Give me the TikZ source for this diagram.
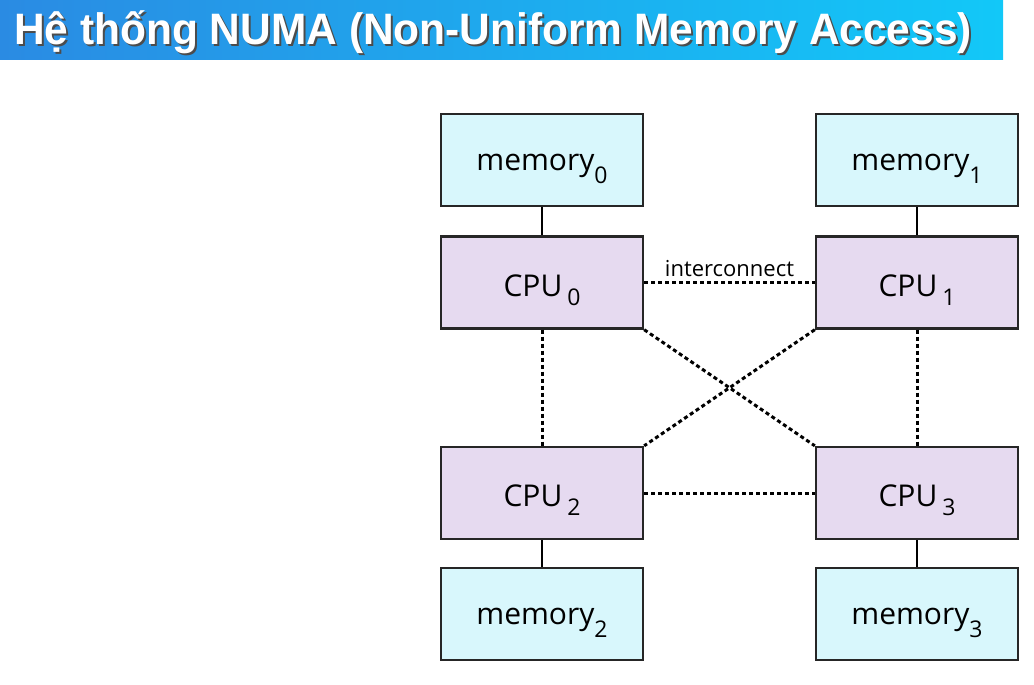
\documentclass[tikz,border=0pt]{standalone}
\usepackage{fontspec}
\setmainfont{Open Sans}
\newfontfamily\titlefont[FakeStretch=0.965]{Liberation Sans}
\usepackage{tikz}

\definecolor{memfill}{HTML}{D8F7FC}
\definecolor{cpufill}{HTML}{E6DAF0}
\definecolor{barleft}{HTML}{2A8BE3}
\definecolor{barright}{HTML}{12C8F8}

% name with a lowered index
\newcommand{\lowidx}[3]{#1\raisebox{-#3}{\fontsize{23}{23}\selectfont #2}}

\begin{document}
\begin{tikzpicture}[x=1pt, y=-1pt,
	membox/.style={shape=rectangle, draw=black!85, line width=2.4pt, fill=memfill, minimum width=202pt, minimum height=92pt, text height=25pt, text depth=5pt, font=\fontsize{30}{30}\selectfont},
	cpubox/.style={shape=rectangle, draw=black!85, line width=2.4pt, fill=cpufill, minimum width=202pt, minimum height=92pt, text height=30pt, text depth=3pt, font=\fontsize{30}{30}\selectfont},
	link/.style={-, line width=3pt, dash pattern=on 4pt off 3pt}]
	
	\useasboundingbox[fill=white] (0, 0) rectangle (1034, 685);
	
	% title bar
	\shade[left color=barleft, right color=barright] (0, 0) rectangle (1003, 60);
	\node[anchor=base west, text=black!70, font=\titlefont\bfseries\fontsize{44}{44}\selectfont, inner sep=0pt] (titleshadow) at (16, 47) {Hệ thống NUMA (Non-Uniform Memory Access)};
	\node[anchor=base west, text=white, font=\titlefont\bfseries\fontsize{44}{44}\selectfont, inner sep=0pt] (title) at (14, 45) {Hệ thống NUMA (Non-Uniform Memory Access)};
	
	\node[membox] (m0) at (542, 160)     {\lowidx{memory}{0}{13pt}};
	\node[membox] (m1) at (917, 160)     {\lowidx{memory}{1}{13pt}};
	\node[cpubox] (c0) at (542, 282.5)   {\lowidx{CPU\,}{0}{9pt}};
	\node[cpubox] (c1) at (917, 282.5)   {\lowidx{CPU\,}{1}{9pt}};
	\node[cpubox] (c2) at (542, 493)     {\lowidx{CPU\,}{2}{9pt}};
	\node[cpubox] (c3) at (917, 493)     {\lowidx{CPU\,}{3}{9pt}};
	\node[membox] (m2) at (542, 614)     {\lowidx{memory}{2}{13pt}};
	\node[membox] (m3) at (917, 614)     {\lowidx{memory}{3}{13pt}};
	
	\path[-, line width=2.4pt] (m0) edge (c0);
	\path[-, line width=2.4pt] (m1) edge (c1);
	\path[-, line width=2.4pt] (c2) edge (m2);
	\path[-, line width=2.4pt] (c3) edge (m3);
	
	\path[link] (c0) edge node[above, font=\fontsize{22}{22}\selectfont, yshift=1pt]{interconnect} (c1);
	\path[link] (c2) edge (c3);
	\path[link] (c0) edge (c2);
	\path[link] (c1) edge (c3);
	\path[link] (c0.south east) edge (c3.north west);
	\path[link] (c1.south west) edge (c2.north east);
	
\end{tikzpicture}
\end{document}
